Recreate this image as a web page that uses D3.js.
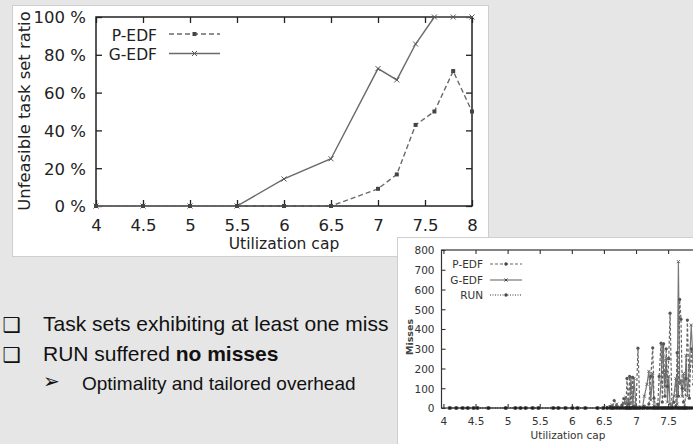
<!DOCTYPE html>
<html>
<head>
<meta charset="utf-8">
<script src="https://cdn.jsdelivr.net/npm/d3@7"></script>
<style>
  html, body { margin: 0; padding: 0; background: #e6e6e6; overflow: hidden; }
  svg { display: block; }
</style>
</head>
<body>
<svg id="slide" width="693" height="444"></svg>
<script>
// ---------- Unfeasible task set ratio (percent) per utilization cap ----------
const ratioCaps = [4, 4.5, 5, 5.5, 6, 6.5, 7, 7.2, 7.4, 7.6, 7.8, 8];
const pedfRatio = [0, 0, 0, 0, 0, 0, 9.1, 16.7, 42.9, 50, 71.4, 50];
const gedfRatio = [0, 0, 0, 0, 14.3, 25, 72.7, 66.7, 85.7, 100, 100, 100];
const ratioXTicks = [4, 4.5, 5, 5.5, 6, 6.5, 7, 7.5, 8];
const ratioYTicks = [0, 20, 40, 60, 80, 100];

// ---------- Deadline misses per task set ----------
const missCaps = [4.1, 4.2, 4.3, 4.38, 4.47, 4.53, 4.7, 4.97, 5.12, 5.2, 5.28, 5.39, 5.48, 5.71, 5.79, 5.9,
  6.01, 6.09, 6.21, 6.4, 6.49, 6.55, 6.6, 6.63, 6.66, 6.7, 6.74, 6.78, 6.81, 6.84, 6.86, 6.88, 6.9, 6.92,
  6.95, 6.97, 7.0, 7.03, 7.06, 7.1, 7.13, 7.17, 7.2, 7.23, 7.26, 7.28, 7.31, 7.34, 7.36, 7.39, 7.41, 7.43,
  7.45, 7.47, 7.49, 7.51, 7.53, 7.56, 7.59, 7.62, 7.64, 7.66, 7.68, 7.7, 7.72, 7.74, 7.76, 7.78, 7.8, 7.83,
  7.86, 7.9, 7.95, 8.0];
const pedfMisses = [0, 0, 0, 0, 0, 0, 0, 0, 0, 0, 0, 0, 0, 0, 0, 0,
  0, 0, 0, 0, 0, 0, 8, 0, 38, 5, 0, 15, 48, 0, 150, 20, 160, 0,
  155, 10, 0, 303, 0, 0, 10, 0, 20, 160, 305, 50, 0, 20, 160, 328, 30, 325,
  60, 300, 110, 250, 480, 0, 30, 10, 280, 60, 550, 450, 100, 30, 0, 150, 445, 50,
  300, 120, 400, 200];
const gedfMisses = [0, 0, 0, 0, 0, 0, 0, 0, 0, 0, 0, 0, 0, 0, 0, 0,
  0, 0, 0, 0, 0, 5, 0, 15, 0, 20, 0, 5, 25, 55, 10, 40, 0, 155,
  10, 150, 0, 0, 5, 0, 60, 120, 185, 40, 175, 10, 0, 15, 0, 130, 325, 180,
  110, 250, 30, 160, 20, 0, 60, 150, 20, 741, 120, 140, 60, 175, 90, 265, 60, 200,
  420, 150, 300, 500];
const runMisses = [0, 0, 0, 0, 0, 0, 0, 0, 0, 0, 0, 0, 0, 0, 0, 0,
  0, 0, 0, 0, 0, 0, 0, 0, 0, 0, 0, 0, 0, 0, 0, 0, 0, 0,
  0, 0, 0, 0, 0, 0, 0, 0, 0, 0, 0, 0, 0, 0, 0, 0, 0, 0,
  0, 0, 0, 0, 0, 0, 0, 0, 0, 0, 0, 0, 0, 0, 0, 0, 0, 0,
  0, 0, 0, 0];
const missXTicks = [4, 4.5, 5, 5.5, 6, 6.5, 7, 7.5];
const missYTicks = [0, 100, 200, 300, 400, 500, 600, 700, 800];

const chartFont = "'DejaVu Sans', sans-serif";
const slideFont = "'Liberation Sans', Arial, sans-serif";

const svg = d3.select("#slide");
svg.append("rect").attr("width", 693).attr("height", 444).attr("fill", "#e6e6e6");

// marker painters
function drawMarkers(g, pts, kind, size, color) {
  const sel = g.append("g").selectAll("g").data(pts).join("g")
    .attr("transform", d => `translate(${d[0]},${d[1]})`);
  if (kind === "square") {
    sel.append("rect").attr("x", -size / 2).attr("y", -size / 2)
      .attr("width", size).attr("height", size).attr("fill", color);
  } else if (kind === "cross") {
    const s = size / 2;
    sel.append("path").attr("d", `M${-s},${-s}L${s},${s}M${-s},${s}L${s},${-s}`)
      .attr("stroke", color).attr("stroke-width", 1).attr("fill", "none");
  } else {
    sel.append("circle").attr("r", size / 2).attr("fill", color);
  }
}

// ================= Panel 1: unfeasible ratio =================
const p1 = svg.append("g");
p1.append("rect").attr("x", 12.5).attr("y", 5.5).attr("width", 476).attr("height", 251)
  .attr("fill", "#fff").attr("stroke", "#cfcfcf");

const x1 = d3.scaleLinear().domain([4, 8]).range([96, 472]);
const y1 = d3.scaleLinear().domain([0, 100]).range([206, 17]);

const ax1 = p1.append("g").attr("font-family", chartFont);
const left1 = ax1.append("g").attr("transform", `translate(${x1(4)},0)`)
  .call(d3.axisLeft(y1).tickValues(ratioYTicks).tickFormat(d => d + " %").tickSizeInner(-6).tickSizeOuter(0).tickPadding(10));
const bottom1 = ax1.append("g").attr("transform", `translate(0,${y1(0)})`)
  .call(d3.axisBottom(x1).tickValues(ratioXTicks).tickFormat(d3.format("")).tickSizeInner(-6).tickSizeOuter(0).tickPadding(14));
ax1.append("g").attr("transform", `translate(0,${y1(100)})`)
  .call(d3.axisTop(x1).tickValues(ratioXTicks).tickFormat("").tickSizeInner(-6).tickSizeOuter(0));
ax1.append("g").attr("transform", `translate(${x1(8)},0)`)
  .call(d3.axisRight(y1).tickValues(ratioYTicks).tickFormat("").tickSizeInner(-6).tickSizeOuter(0));
ax1.selectAll(".domain").remove();
ax1.selectAll(".tick line").attr("stroke", "#222").attr("stroke-width", 1.3);
ax1.selectAll("text").attr("font-size", 16.5).attr("fill", "#222").attr("font-family", chartFont);
left1.selectAll("text").attr("dy", "0.36em");
bottom1.selectAll("text").attr("dy", "0.68em");

p1.append("rect").attr("x", x1(4)).attr("y", y1(100))
  .attr("width", x1(8) - x1(4)).attr("height", y1(0) - y1(100))
  .attr("fill", "none").attr("stroke", "#222").attr("stroke-width", 1.5);

p1.append("text").attr("transform", `translate(30,${(y1(0) + y1(100)) / 2 - 0.5}) rotate(-90)`)
  .attr("text-anchor", "middle").attr("font-family", chartFont).attr("font-size", 16.4)
  .attr("fill", "#222").text("Unfeasible task set ratio");
p1.append("text").attr("x", 284).attr("y", 248.5).attr("text-anchor", "middle")
  .attr("font-family", chartFont).attr("font-size", 15.5).attr("fill", "#222").text("Utilization cap");

const line1 = d3.line().x(d => x1(d[0])).y(d => y1(d[1]));
const pedfPts = ratioCaps.map((c, i) => [c, pedfRatio[i]]);
const gedfPts = ratioCaps.map((c, i) => [c, gedfRatio[i]]);
p1.append("path").datum(gedfPts).attr("d", line1).attr("fill", "none")
  .attr("stroke", "#6a6a6a").attr("stroke-width", 1.4);
p1.append("path").datum(pedfPts).attr("d", line1).attr("fill", "none")
  .attr("stroke", "#6a6a6a").attr("stroke-width", 1.4).attr("stroke-dasharray", "5,3");
drawMarkers(p1, gedfPts.map(d => [x1(d[0]), y1(d[1])]), "cross", 5, "#555");
drawMarkers(p1, pedfPts.map(d => [x1(d[0]), y1(d[1])]), "square", 4, "#444");

// legend
const lg1 = p1.append("g").attr("font-family", chartFont).attr("font-size", 15.5).attr("fill", "#222");
lg1.append("text").attr("x", 157).attr("y", 40.5).attr("text-anchor", "end").text("P-EDF");
lg1.append("text").attr("x", 157).attr("y", 59.5).attr("text-anchor", "end").text("G-EDF");
lg1.append("line").attr("x1", 169).attr("x2", 220).attr("y1", 34).attr("y2", 34)
  .attr("stroke", "#6a6a6a").attr("stroke-width", 1.4).attr("stroke-dasharray", "5,3");
lg1.append("line").attr("x1", 169).attr("x2", 220).attr("y1", 53.5).attr("y2", 53.5)
  .attr("stroke", "#6a6a6a").attr("stroke-width", 1.4);
drawMarkers(lg1, [[194.5, 34]], "square", 4, "#444");
drawMarkers(lg1, [[194.5, 53.5]], "cross", 5, "#555");

// ================= Panel 2: misses =================
const p2 = svg.append("g");
p2.append("rect").attr("x", 397.5).attr("y", 237.5).attr("width", 310).attr("height", 220)
  .attr("fill", "#fff").attr("stroke", "#cfcfcf");

const x2 = d3.scaleLinear().domain([3.97, 8]).range([441.5, 441.5 + 4.03 * 64.2]);
const y2 = d3.scaleLinear().domain([0, 800]).range([408, 250]);

const ax2 = p2.append("g");
const left2 = ax2.append("g").attr("transform", `translate(${x2(3.97)},0)`)
  .call(d3.axisLeft(y2).tickValues(missYTicks).tickFormat(d3.format("")).tickSizeInner(-4).tickSizeOuter(0).tickPadding(7));
const bottom2 = ax2.append("g").attr("transform", `translate(0,${y2(0)})`)
  .call(d3.axisBottom(x2).tickValues(missXTicks).tickFormat(d3.format("")).tickSizeInner(-4).tickSizeOuter(0).tickPadding(10));
ax2.append("g").attr("transform", `translate(0,${y2(800)})`)
  .call(d3.axisTop(x2).tickValues(missXTicks).tickFormat("").tickSizeInner(-4).tickSizeOuter(0));
ax2.selectAll(".domain").remove();
ax2.selectAll(".tick line").attr("stroke", "#333").attr("stroke-width", 1.1);
ax2.selectAll("text").attr("font-size", 10.5).attr("fill", "#333").attr("font-family", chartFont);
left2.selectAll("text").attr("dy", "0.36em");
bottom2.selectAll("text").attr("dy", "0.71em");

p2.append("rect").attr("x", x2(3.97)).attr("y", y2(800))
  .attr("width", x2(8) - x2(3.97)).attr("height", y2(0) - y2(800))
  .attr("fill", "none").attr("stroke", "#333").attr("stroke-width", 1.2);

p2.append("text").attr("transform", `translate(413,${337}) rotate(-90)`)
  .attr("text-anchor", "middle").attr("font-family", chartFont).attr("font-size", 9.5)
  .attr("font-weight", "bold").attr("fill", "#444").text("Misses");
p2.append("text").attr("x", 568).attr("y", 439).attr("text-anchor", "middle")
  .attr("font-family", chartFont).attr("font-size", 10.5).attr("fill", "#333").text("Utilization cap");

const line2 = d3.line().x(d => x2(d[0])).y(d => y2(d[1]));
const pedfM = missCaps.map((c, i) => [c, pedfMisses[i]]);
const gedfM = missCaps.map((c, i) => [c, gedfMisses[i]]);
const runM = missCaps.map((c, i) => [c, runMisses[i]]);
const plot2 = p2.append("g");
plot2.append("path").datum(gedfM).attr("d", line2).attr("fill", "none")
  .attr("stroke", "#777").attr("stroke-width", 1.2);
plot2.append("path").datum(pedfM).attr("d", line2).attr("fill", "none")
  .attr("stroke", "#666").attr("stroke-width", 1.2).attr("stroke-dasharray", "3,2");
plot2.append("path").datum(runM).attr("d", line2).attr("fill", "none")
  .attr("stroke", "#333").attr("stroke-width", 1.6).attr("stroke-dasharray", "1,1.5");
drawMarkers(plot2, gedfM.map(d => [x2(d[0]), y2(d[1])]), "cross", 3, "#666");
drawMarkers(plot2, pedfM.map(d => [x2(d[0]), y2(d[1])]), "circle", 3.2, "#555");
drawMarkers(plot2, runM.map(d => [x2(d[0]), y2(d[1])]), "circle", 3.6, "#222");

// legend
const lg2 = p2.append("g").attr("font-family", chartFont).attr("font-size", 10.5).attr("fill", "#333");
[["P-EDF", 264, "3,2", "#666"], ["G-EDF", 280, null, "#777"], ["RUN", 295, "1,1.5", "#333"]].forEach((r, i) => {
  lg2.append("text").attr("x", 483).attr("y", r[1] + 3.8).attr("text-anchor", "end").text(r[0]);
  const l = lg2.append("line").attr("x1", 490).attr("x2", 522).attr("y1", r[1]).attr("y2", r[1])
    .attr("stroke", r[3]).attr("stroke-width", 1.2);
  if (r[2]) l.attr("stroke-dasharray", r[2]);
  drawMarkers(lg2, [[506, r[1]]], i === 1 ? "cross" : "circle", i === 1 ? 3 : 3.4, "#444");
});

// ================= Bullet text =================
const tx = svg.append("g").attr("fill", "#111");
tx.append("text").attr("x", 2.5).attr("y", 331.5).attr("font-family", "'DejaVu Sans'").attr("font-size", 20.5)
  .attr("font-weight", "bold").text("❑");
tx.append("text").attr("x", 2.5).attr("y", 362).attr("font-family", "'DejaVu Sans'").attr("font-size", 20.5)
  .attr("font-weight", "bold").text("❑");
tx.append("text").attr("x", 43).attr("y", 388).attr("font-family", "'DejaVu Sans'").attr("font-size", 20).text("➢");

tx.append("text").attr("x", 43).attr("y", 331).attr("font-family", slideFont).attr("font-size", 21)
  .text("Task sets exhibiting at least one miss");
const t2 = tx.append("text").attr("x", 43).attr("y", 360.5).attr("font-family", slideFont).attr("font-size", 21);
t2.append("tspan").text("RUN suffered ");
t2.append("tspan").attr("font-weight", "bold").text("no misses");
tx.append("text").attr("x", 82).attr("y", 390).attr("font-family", slideFont).attr("font-size", 19)
  .text("Optimality and tailored overhead");
</script>
</body>
</html>
